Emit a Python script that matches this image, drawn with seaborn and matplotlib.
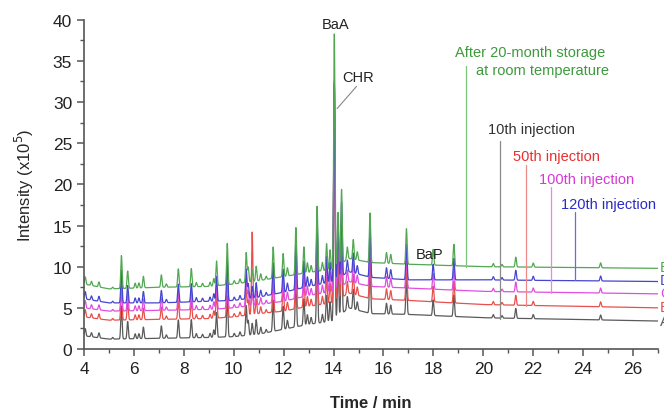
import matplotlib
matplotlib.use("Agg")
import matplotlib.pyplot as plt
from matplotlib.ticker import MultipleLocator
import seaborn as sns
import pandas as pd
import numpy as np

# ---------------------------------------------------------------------------
# Data
# ---------------------------------------------------------------------------
TRACES = ['A', 'B', 'C', 'D', 'E']
COLORS = {'A': '#5a5a5a', 'B': '#e8504c', 'C': '#e04ee0', 'D': '#4545d0', 'E': '#52a852'}

# baseline of each trace (x10^5) at some retention times (min)
BASE_TIMES = [4, 5, 7, 9, 10, 11, 12, 13, 14, 14.6, 15.5, 17, 20, 27]
BASE_A = [1.6, 1.2, 1.3, 1.4, 1.5, 1.8, 2.4, 3.0, 3.4, 5.0, 4.3, 4.2, 3.8, 3.4]
BASE_B = [3.9, 3.5, 3.6, 3.7, 3.9, 4.3, 4.6, 5.2, 5.6, 6.8, 6.1, 5.9, 5.4, 5.0]
BASE_C = [5.0, 4.6, 4.7, 4.8, 5.0, 5.4, 5.8, 6.5, 7.0, 8.2, 7.6, 7.4, 7.0, 6.7]
BASE_D = [6.1, 5.6, 5.6, 5.8, 5.9, 6.3, 6.9, 7.6, 8.2, 9.4, 8.7, 8.4, 8.4, 8.2]
BASE_E = [7.9, 7.3, 7.5, 7.6, 7.9, 8.3, 8.8, 9.3, 9.7, 11.0, 10.5, 10.3, 10.0, 9.8]

# peaks shared by all traces: retention time and height above baseline
PEAK_TIMES = [4.05, 4.3, 4.6, 5.15, 5.5, 5.75, 6.05, 6.2, 6.38, 7.1, 7.3, 7.78,
              8.3, 8.5, 8.75, 9.05, 9.2, 9.31, 9.74, 10.02, 10.25, 10.5, 10.58,
              10.9, 11.08, 11.3, 11.58, 11.98, 12.15, 12.49, 12.81, 12.95, 13.1,
              13.34, 13.55, 13.72, 13.86, 14.18, 14.32, 14.55, 14.79, 14.95,
              15.46, 16.12, 16.29, 16.92, 17.99, 18.82, 20.4, 20.75, 21.3, 22.0, 24.7]
PEAK_HEIGHTS = [0.9, 0.5, 0.6, 0.2, 4.0, 2.1, 0.6, 0.6, 1.4, 1.5, 0.4, 2.2,
                2.2, 0.5, 0.4, 0.5, 0.9, 3.0, 5.0, 0.4, 0.5, 3.6, 1.8,
                1.8, 0.8, 0.4, 3.8, 2.8, 1.0, 5.7, 3.2, 1.2, 0.8,
                7.9, 1.0, 3.2, 2.4, 6.5, 9.0, 1.5, 2.4, 1.0,
                6.0, 1.3, 1.1, 4.3, 1.9, 2.6, 0.4, 0.3, 1.2, 0.5, 0.6]

# peaks that differ between traces (A, B, C, D, E)
BAA_TIME = 14.03
BAA_HEIGHTS = [28.5, 26.0, 25.5, 24.0, 28.5]
SPIKE_TIME = 10.74
SPIKE_HEIGHTS = [1.4, 10.0, 1.4, 1.4, 1.4]

# injection markers
MARK_TIMES = [19.3, 20.66, 21.7, 22.7, 23.68]
MARK_BOTTOMS = [10.0, 3.6, 5.2, 6.8, 8.4]
MARK_TOPS = [34.4, 25.3, 22.3, 19.7, 16.6]
MARK_COLORS = ['#7cc47c', '#8a8a8a', '#ee8a88', '#ec84ec', '#6a6ae0']

# ---------------------------------------------------------------------------
# Build the traces
# ---------------------------------------------------------------------------
t = np.arange(4.0, 27.2, 0.005)
bases = dict(zip(TRACES, [BASE_A, BASE_B, BASE_C, BASE_D, BASE_E]))
sigma = 0.026

frames = []
for i, name in enumerate(TRACES):
    y = np.interp(t, BASE_TIMES, bases[name])
    times = PEAK_TIMES + [BAA_TIME, SPIKE_TIME]
    heights = PEAK_HEIGHTS + [BAA_HEIGHTS[i], SPIKE_HEIGHTS[i]]
    for pt, ph in zip(times, heights):
        y = y + ph * np.exp(-0.5 * ((t - pt) / sigma) ** 2)
    frames.append(pd.DataFrame({'Time': t, 'Intensity': y, 'Trace': name}))
df = pd.concat(frames, ignore_index=True)

# ---------------------------------------------------------------------------
# Plot
# ---------------------------------------------------------------------------
sns.set_style("ticks")
plt.rcParams['font.family'] = ['Liberation Sans', 'DejaVu Sans']

fig = plt.figure(figsize=(6.64, 4.10), dpi=100)
ax = fig.add_axes([0.1265, 0.1463, 0.8645, 0.8032])

sns.lineplot(data=df, x='Time', y='Intensity', hue='Trace', hue_order=TRACES,
             palette=COLORS, linewidth=0.9, estimator=None, sort=False,
             legend=False, ax=ax)

for mt, mb, mtop, mc in zip(MARK_TIMES, MARK_BOTTOMS, MARK_TOPS, MARK_COLORS):
    ax.plot([mt, mt], [mb, mtop], color=mc, linewidth=0.9)

ax.set_xlim(4, 27)
ax.set_ylim(0, 40)
ax.xaxis.set_major_locator(MultipleLocator(2))
ax.xaxis.set_minor_locator(MultipleLocator(1))
ax.yaxis.set_major_locator(MultipleLocator(5))
ax.yaxis.set_minor_locator(MultipleLocator(2.5))
ax.tick_params(which='major', direction='out', length=5, width=1.1,
               color='#555555', labelsize=12.5, labelcolor='#222222')
ax.tick_params(which='minor', direction='out', length=3, width=1.0, color='#555555')
for side in ['left', 'bottom']:
    ax.spines[side].set_color('#555555')
    ax.spines[side].set_linewidth(1.2)
sns.despine(ax=ax)

ax.set_xlabel('Time / min', fontsize=12, fontweight='bold', labelpad=14)
ax.set_ylabel('Intensity (x10$^5$)', fontsize=12, labelpad=12)

# peak labels
ax.text(14.09, 39.5, 'BaA', fontsize=10.5, ha='center', va='center', color='#222222')
ax.text(14.33, 33.05, 'CHR', fontsize=10.5, ha='left', va='center', color='#222222')
ax.plot([14.92, 14.14], [31.9, 29.2], color='#888888', linewidth=0.8)
ax.text(17.86, 11.5, 'BaP', fontsize=10.5, ha='center', va='center', color='#222222')

# marker labels
ax.text(18.86, 36.1, 'After 20-month storage', fontsize=10.5, color='#3d9a3d', va='center')
ax.text(19.70, 33.9, 'at room temperature', fontsize=10.5, color='#3d9a3d', va='center')
ax.text(20.18, 26.7, '10th injection', fontsize=10.5, color='#333333', va='center')
ax.text(21.18, 23.45, '50th injection', fontsize=10.5, color='#e83030', va='center')
ax.text(22.22, 20.65, '100th injection', fontsize=10.5, color='#d838d8', va='center')
ax.text(23.10, 17.6, '120th injection', fontsize=10.5, color='#2a2ac8', va='center')

# trace names at the right end (cut by the figure edge, as in the source)
END_LEVELS = [3.4, 5.1, 6.8, 8.4, 10.0]
for name, lvl in zip(TRACES, END_LEVELS):
    ax.text(27.07, lvl, name, fontsize=10.5, color=COLORS[name], va='center',
            ha='left', clip_on=False)

fig.savefig('out.png', dpi=100)
